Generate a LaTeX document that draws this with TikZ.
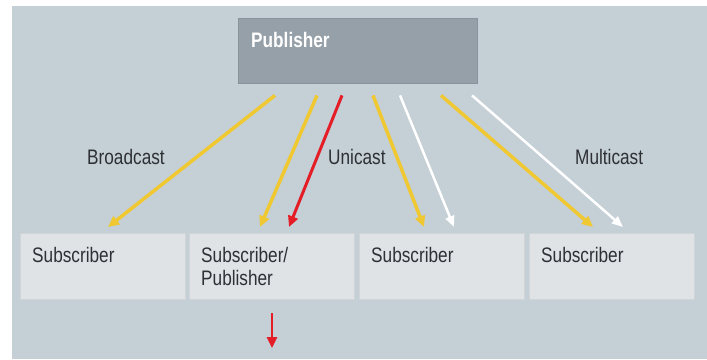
\documentclass[tikz,border=0pt]{standalone}
\usepackage{fontspec}
\setmainfont[FakeStretch=0.82]{Liberation Sans}
\usepackage{tikz}
\usetikzlibrary{positioning}
\usetikzlibrary{calc}
\usetikzlibrary{arrows.meta}
\definecolor{bgblue}{RGB}{197,207,214}
\definecolor{pubgrey}{RGB}{150,160,168}
\definecolor{subgrey}{RGB}{223,227,230}
\definecolor{castyellow}{RGB}{240,200,50}
\definecolor{castred}{RGB}{228,30,38}
\definecolor{txtgrey}{RGB}{45,48,52}
\tikzset{x=1pt,y=-1pt,
pubbox/.style={fill=pubgrey,draw=pubgrey!92!black,minimum width=239pt,minimum height=65pt,anchor=north west,inner sep=0pt},
subbox/.style={fill=subgrey,draw=subgrey!94!black,minimum width=165pt,minimum height=66pt,anchor=north west,inner sep=0pt},
boxtxt/.style={anchor=base west,inner sep=0pt,text=txtgrey,font=\fontsize{21}{23}\selectfont,align=left},
pubtxt/.style={boxtxt,text=white,font=\fontsize{21}{23}\selectfont\bfseries},
ycast/.style={castyellow,line width=3.5pt,-{Triangle[length=11pt,width=10pt]}},
wcast/.style={white,line width=2.5pt,-{Triangle[length=11pt,width=9pt]}},
rcast/.style={castred,line width=3pt,-{Triangle[length=11pt,width=10pt]}}}
\begin{document}
\begin{tikzpicture}
\useasboundingbox (0,0) rectangle (707,359);
\fill[bgblue] (12,6) rectangle (707,359);
% publisher on top
\node (pub) at (238,18) [pubbox] {};
\node (pubname) at ([shift={(13,29)}]pub.north west) [pubtxt] {Publisher};
% subscribers in a row
\node (s1) at (20,233) [subbox] {};
\node (s2) at (189,233) [subbox] {};
\node (s3) at (359,233) [subbox] {};
\node (s4) at (529,233) [subbox] {};
\node (t1) at ([shift={(12,29)}]s1.north west) [boxtxt] {Subscriber};
\node (t2) at ([shift={(12,52)}]s2.north west) [boxtxt] {Subscriber/\\Publisher};
\node (t3) at ([shift={(12,29)}]s3.north west) [boxtxt] {Subscriber};
\node (t4) at ([shift={(12,29)}]s4.north west) [boxtxt] {Subscriber};
% kinds of sending
\node (bc) at (87,164) [boxtxt] {Broadcast};
\node (uc) at (328,164) [boxtxt] {Unicast};
\node (mc) at (575,164) [boxtxt] {Multicast};
\draw[ycast] ([shift={(37,12)}]pub.south west) -- ([shift={(88,-6)}]s1.north west);
\draw[ycast] ([shift={(79,12)}]pub.south west) -- ([shift={(71,-6)}]s2.north west);
\draw[rcast] ([shift={(104,12)}]pub.south west) -- ([shift={(100,-6)}]s2.north west);
\draw[ycast] ([shift={(135,12)}]pub.south west) -- ([shift={(65,-6)}]s3.north west);
\draw[wcast] ([shift={(162,12)}]pub.south west) -- ([shift={(95,-6)}]s3.north west);
\draw[ycast] ([shift={(203,12)}]pub.south west) -- ([shift={(64,-6)}]s4.north west);
\draw[wcast] ([shift={(234,12)}]pub.south west) -- ([shift={(94,-6)}]s4.north west);
% passed on
\coordinate (fwd) at (272,348);
\draw[rcast,line width=2.5pt] ([shift={(83,14)}]s2.south west) -- (fwd);
\end{tikzpicture}
\end{document}
